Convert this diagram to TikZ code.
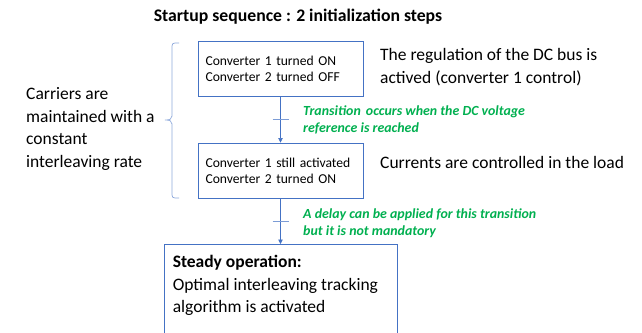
\documentclass[tikz,border=0pt]{standalone}
\usepackage{fontspec}
\setmainfont{Carlito}
\usetikzlibrary{arrows.meta,calc}
\definecolor{boxblue}{HTML}{4472C4}
\definecolor{lineblue}{HTML}{4472C4}
\definecolor{bracecol}{HTML}{8FAADC}
\definecolor{trgreen}{HTML}{00B050}
\tikzset{
  stepbox/.style={draw=boxblue,line width=0.9pt,fill=white,inner sep=0pt,align=left,
    minimum width=165pt,minimum height=55pt,text width=150pt,
    font=\fontsize{13.6}{16}\selectfont},
  bigtext/.style={inner sep=0pt,align=left,font=\fontsize{17.5}{22.5}\selectfont},
  greentext/.style={inner sep=0pt,align=left,text=trgreen,
    font=\fontsize{13.9}{17}\selectfont\bfseries\itshape},
  conn/.style={draw=lineblue,line width=0.6pt,-{Triangle[length=4.5pt,width=4.5pt]}},
  tickline/.style={draw=lineblue!70,line width=0.6pt},
  bracestyle/.style={draw=bracecol,line width=0.7pt},
}
\begin{document}
\begin{tikzpicture}[x=1pt,y=-1pt]
\clip (0,0) rectangle (642,332);
\fill[white] (0,0) rectangle (642,332);
\node[inner sep=0pt,font=\fontsize{17.7}{21}\selectfont\bfseries] (title) at (298,17) {Startup sequence : 2 initialization steps};
\node[stepbox] (b1) at (280.5,69) {Converter 1 turned ON\\Converter 2 turned OFF};
\node[stepbox] (b2) at (280.5,170.5) {Converter 1 still activated\\Converter 2 turned ON};
\node[draw=boxblue,line width=0.9pt,minimum width=233pt,minimum height=120pt,inner sep=0pt,anchor=north] (b3) at (280.5,244) {};
\node[bigtext,anchor=north west] (b3text) at ($(b3.north west)+(9,11)$) {\textbf{Steady operation:}\\Optimal interleaving tracking\\algorithm is activated};
\node[bigtext,anchor=west] (reg) at (380,67) {The regulation of the DC bus is\\actived (converter 1 control)};
\node[bigtext,anchor=west] (cur) at (380,162) {Currents are controlled in the load};
\node[bigtext,anchor=west] (carr) at (26,129) {Carriers are\\maintained with a\\constant\\interleaving rate};
\node[greentext,anchor=west] (g1) at (303,119.5) {Transition\hspace{2pt} occurs when the DC voltage\\reference is reached};
\node[greentext,anchor=west] (g2) at (303,223.5) {A delay can be applied for this transition\\but it is not mandatory};
\draw[conn] (b1.south) -- (b2.north);
\draw[conn] (b2.south) -- (b3.north);
\coordinate (t1) at ($(b1.south)!0.5!(b2.north)$);
\coordinate (t2) at ($(b2.south)!0.5!(b3.north)$);
\draw[tickline] ($(t1)+(-8,0)$) -- ($(t1)+(8,0)$);
\draw[tickline] ($(t2)+(-8,0)$) -- ($(t2)+(8,0)$);
\draw[bracestyle] (179,43) -- (175,43) .. controls (173,43) and (172,44) .. (172,46) -- (172,116)
  .. controls (172,119) and (170,120) .. (165,120)
  .. controls (170,120) and (172,121) .. (172,124) -- (172,195)
  .. controls (172,197) and (173,198) .. (175,198) -- (179,198);
\end{tikzpicture}
\end{document}
